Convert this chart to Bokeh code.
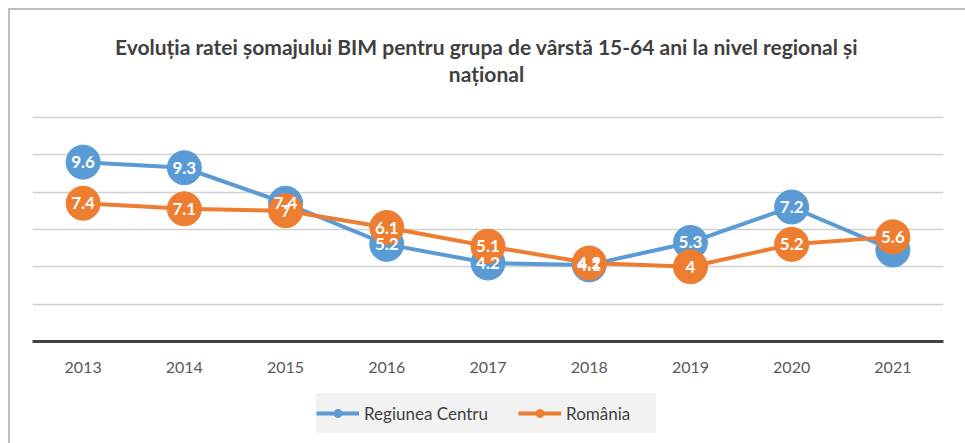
from bokeh.plotting import figure
from bokeh.layouts import column
from bokeh.models import (ColumnDataSource, Range1d, FixedTicker, Legend, LegendItem,
                          LabelSet, Label)
from bokeh.core.properties import value
from bokeh.embed import file_html
from bokeh.resources import INLINE

# ---- data ----
years = [2013, 2014, 2015, 2016, 2017, 2018, 2019, 2020, 2021]
year_labels = ["2013", "2014", "2015", "2016", "2017", "2018", "2019", "2020", "2021"]
centru = [9.6, 9.3, 7.4, 5.2, 4.2, 4.1, 5.3, 7.2, 4.9]
romania = [7.4, 7.1, 7.0, 6.1, 5.1, 4.2, 4.0, 5.2, 5.6]
series_names = ["Regiunea Centru", "România"]
title_lines = ["Evoluția ratei șomajului BIM pentru grupa de vârstă 15-64 ani la nivel regional și",
               "național"]

BLUE = "#5B9BD5"
ORANGE = "#ED7D31"
FONT = "Lato"
W = 955


def blank(height):
    f = figure(width=W, height=height, x_range=Range1d(0, 1), y_range=Range1d(0, 1),
               output_backend="svg", toolbar_location=None, x_axis_type=None,
               y_axis_type=None, min_border=0)
    f.xgrid.visible = False
    f.ygrid.visible = False
    f.outline_line_color = None
    f.border_fill_color = "white"
    return f


# ---- title strip ----
top = blank(104)
for line, ypos in zip(title_lines, (68, 41)):
    top.add_layout(Label(x=454, y=ypos, x_units="screen", y_units="screen", text=line,
                         text_align="center", text_baseline="middle",
                         text_font=FONT, text_font_size="21px", text_font_style="bold",
                         text_color="#404040"))

# ---- main chart ----
src_c = ColumnDataSource(dict(x=years[:-1], y=centru[:-1],
                              t=[f"{v:g}" for v in centru[:-1]]))
src_c_all = ColumnDataSource(dict(x=years, y=centru))
src_r = ColumnDataSource(dict(x=years, y=romania, t=[f"{v:g}" for v in romania]))

p = figure(width=W, height=271,
           x_range=Range1d(2012.5, 2021.5), y_range=Range1d(0, 12.15),
           output_backend="svg", toolbar_location=None,
           min_border_left=22, min_border_right=22, min_border_top=0, min_border_bottom=44)
p.outline_line_color = None
p.background_fill_color = "white"
p.border_fill_color = "white"

p.yaxis.visible = False
p.xgrid.visible = False
p.ygrid.ticker = FixedTicker(ticks=[2, 4, 6, 8, 10, 12])
p.ygrid.grid_line_color = "#d0d0d0"
p.ygrid.grid_line_width = 1.5

ax = p.xaxis[0]
ax.ticker = FixedTicker(ticks=years)
ax.major_label_overrides = {y: l for y, l in zip(years, year_labels)}
ax.axis_line_width = 3
ax.axis_line_color = "#404040"
ax.major_tick_line_color = None
ax.minor_tick_line_color = None
ax.major_label_text_font = FONT
ax.major_label_text_font_size = "16px"
ax.major_label_text_color = "#595959"
ax.major_label_standoff = 14

p.line("x", "y", source=src_c_all, line_color=BLUE, line_width=4)
p.scatter("x", "y", source=src_c_all, size=34, fill_color=BLUE, line_color=BLUE)
p.line("x", "y", source=src_r, line_color=ORANGE, line_width=4)
p.scatter("x", "y", source=src_r, size=34, fill_color=ORANGE, line_color=ORANGE)

for src in (src_c, src_r):
    p.add_layout(LabelSet(x="x", y="y", text="t", source=src, text_color="white",
                          text_font=value(FONT), text_font_size="17px", text_font_style="bold",
                          text_align="center", text_baseline="middle"))

# ---- legend strip (legend swatches reuse the series, out of this strip's view) ----
bot = blank(58)
lb1 = bot.line("x", "y", source=src_c_all, line_color=BLUE, line_width=4)
sb1 = bot.scatter("x", "y", source=src_c_all, size=9, fill_color=BLUE, line_color=BLUE)
lb2 = bot.line("x", "y", source=src_r, line_color=ORANGE, line_width=4)
sb2 = bot.scatter("x", "y", source=src_r, size=9, fill_color=ORANGE, line_color=ORANGE)
legend = Legend(items=[LegendItem(label=series_names[0], renderers=[lb1, sb1]),
                       LegendItem(label=series_names[1], renderers=[lb2, sb2])],
                orientation="horizontal", location=(284, 10),
                background_fill_color="#f2f2f2", background_fill_alpha=1,
                border_line_color=None, label_text_font=FONT,
                label_text_font_size="17px", label_text_color="#404040",
                glyph_width=43, glyph_height=20, label_height=40,
                label_standoff=5, label_width=90,
                spacing=30, padding=12, margin=0)
bot.add_layout(legend, "center")

layout = column(top, p, bot, spacing=0)
layout.styles = {"margin-left": "8px", "margin-top": "8px",
                 "border-left": "2px solid #bfbfbf", "border-top": "2px solid #bfbfbf"}

open("out.html", "w").write(file_html(layout, INLINE))
